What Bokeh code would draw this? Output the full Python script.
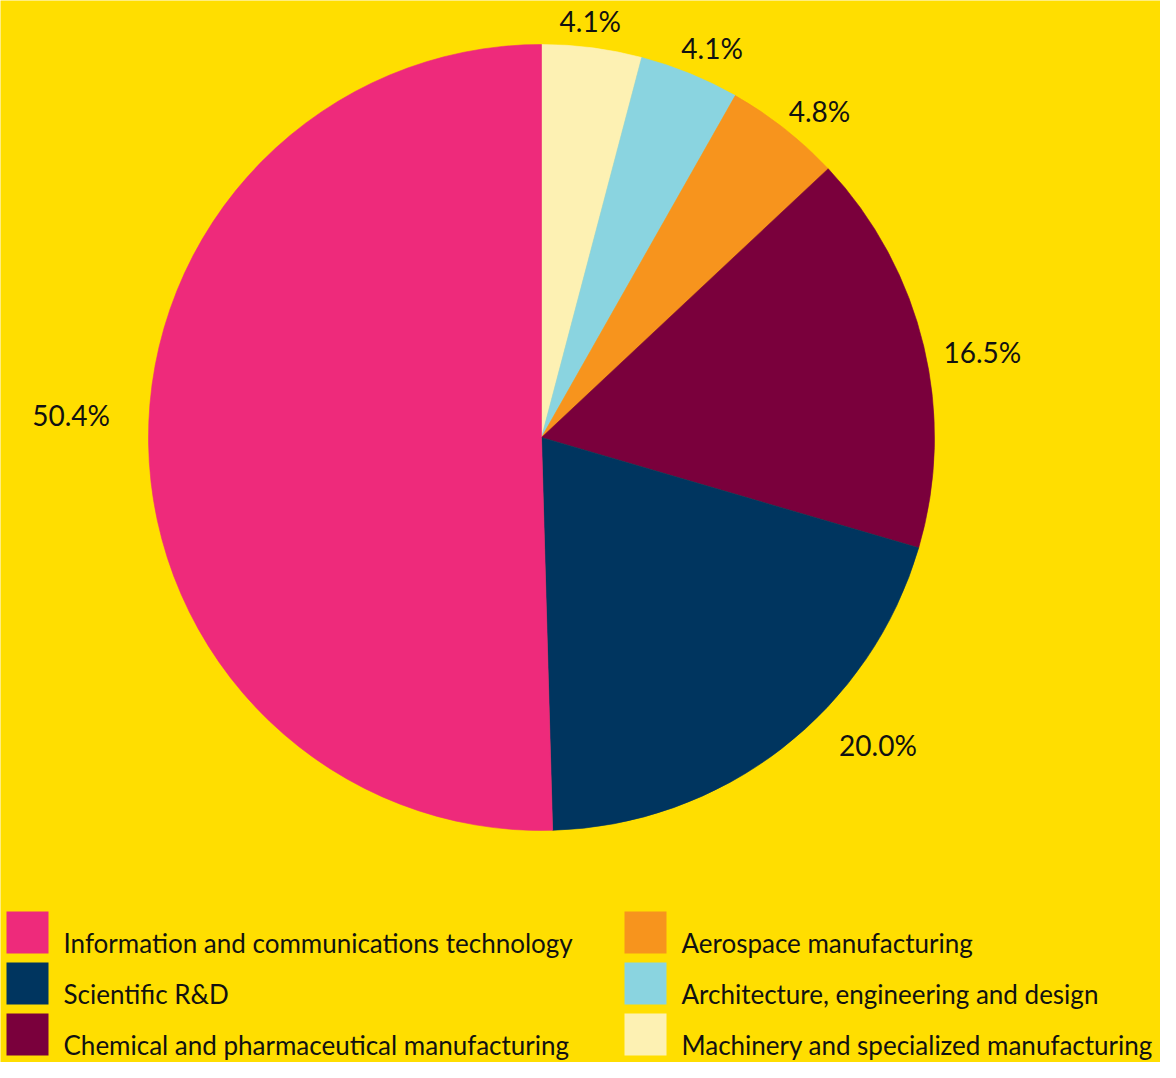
import math
from bokeh.plotting import figure
from bokeh.models import Range1d, ColumnDataSource
from bokeh.core.properties import value
from bokeh.embed import file_html
from bokeh.resources import INLINE

# ---- data ----
categories = [
    "Machinery and specialized manufacturing",
    "Architecture, engineering and design",
    "Aerospace manufacturing",
    "Chemical and pharmaceutical manufacturing",
    "Scientific R&D",
    "Information and communications technology",
]
shares = [4.1, 4.1, 4.8, 16.5, 20.0, 50.4]
colors = ["#FDF1B3", "#8AD4E0", "#F7941D", "#7A003C", "#00355F", "#EE2A7B"]

legend_order = [
    "Information and communications technology",
    "Scientific R&D",
    "Chemical and pharmaceutical manufacturing",
    "Aerospace manufacturing",
    "Architecture, engineering and design",
    "Machinery and specialized manufacturing",
]

# ---- layout (pixels; data units == screen pixels) ----
W, H = 1160, 1062
BG = "#FFDE00"
FONT = "Lato"
CX, CY_TOP, R = 541, 437, 393
CY = H - CY_TOP
label_nudge_deg = [0.7, -1.5, -2.2, -2.5, 9.9, -3.6]
label_radius = [419, 425, 429, 449, 456, 471]

p = figure(width=W, height=H, output_backend="svg", toolbar_location=None,
           x_range=Range1d(0, W), y_range=Range1d(0, H),
           min_border=0, min_border_left=0, min_border_right=0,
           min_border_top=0, min_border_bottom=0)
p.axis.visible = False
p.grid.visible = False
p.outline_line_color = None
p.background_fill_color = BG
p.border_fill_color = BG

total = sum(shares)
starts, ends, mids = [], [], []
cum = 0.0
for s in shares:
    a0 = math.pi / 2 - 2 * math.pi * cum / total
    cum += s
    a1 = math.pi / 2 - 2 * math.pi * cum / total
    starts.append(a0)
    ends.append(a1)
    mids.append((a0 + a1) / 2)

src = ColumnDataSource(dict(x=[CX] * len(shares), y=[CY] * len(shares),
                            start=starts, end=ends, color=colors))
p.wedge(x="x", y="y", radius=R, start_angle="start", end_angle="end",
        direction="clock", fill_color="color", line_color="color",
        line_width=0.6, source=src)

# percentage labels
lx, ly, lt = [], [], []
for i, s in enumerate(shares):
    ang = mids[i] + math.radians(label_nudge_deg[i])
    lx.append(CX + label_radius[i] * math.cos(ang))
    ly.append(CY + label_radius[i] * math.sin(ang))
    lt.append(f"{s:.1f}%")
p.text(x=lx, y=ly, text=lt, text_align="center", text_baseline="middle",
       text_font=value(FONT), text_font_size="28px", text_color="#111111")

# legend
SQ = 42
col_x = [6, 624]
text_dx = 57
row_top = [911, 962, 1013]  # screen px from figure top
rx, ry, rc, tx, ty, tt = [], [], [], [], [], []
for k, name in enumerate(legend_order):
    c = k // 3
    r = k % 3
    idx = categories.index(name)
    rx.append(col_x[c] + SQ / 2)
    ry.append(H - (row_top[r] + SQ / 2))
    rc.append(colors[idx])
    tx.append(col_x[c] + text_dx)
    ty.append(H - (row_top[r] + 31))
    tt.append(name)
p.rect(x=rx, y=ry, width=SQ, height=SQ, fill_color=rc, line_color=None)
p.text(x=tx, y=ty, text=tt, text_align="left", text_baseline="alphabetic",
       text_font=value(FONT), text_font_size="26px", text_color="#111111")

open("out.html", "w").write(file_html(p, INLINE))
